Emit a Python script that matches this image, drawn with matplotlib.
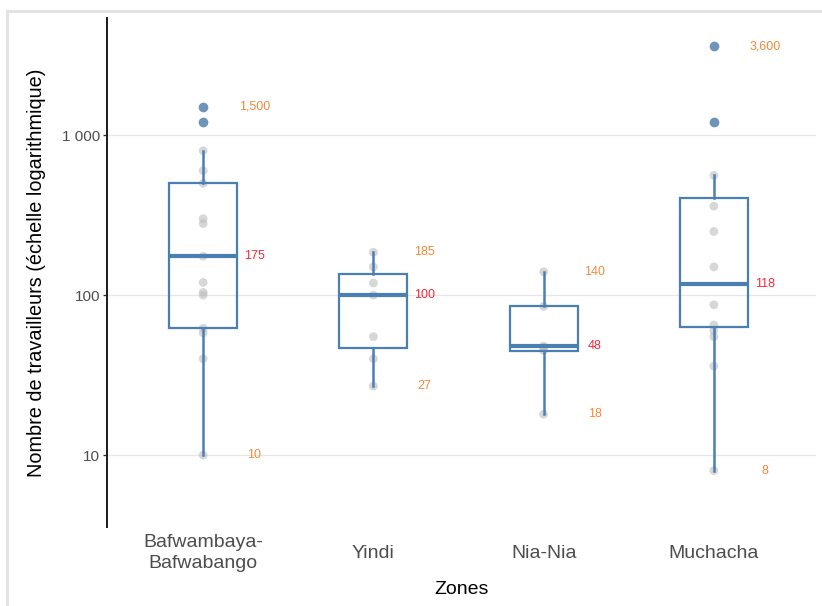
import numpy as np
import matplotlib
matplotlib.use("Agg")
import matplotlib.pyplot as plt
from matplotlib.lines import Line2D

plt.rcParams['font.family'] = ['Liberation Sans', 'DejaVu Sans']

# --- data -----------------------------------------------------------------
zones = ["Bafwambaya-\nBafwabango", "Yindi", "Nia-Nia", "Muchacha"]

# individual sites (non-outlier values)
pts_bafwambaya = [800, 600, 500, 300, 280, 175, 120, 104, 100, 62, 58, 40, 10]
pts_yindi = [185, 150, 119, 100, 55, 40, 27]
pts_nia = [140, 85, 48, 47, 45, 18]
pts_muchacha = [560, 360, 250, 150, 87, 65, 60, 55, 36, 8]
points = [pts_bafwambaya, pts_yindi, pts_nia, pts_muchacha]

# box summaries
q1 = [62, 47, 45, 63]
medians = [175, 100, 48, 118]
q3 = [500, 135, 85, 405]
whis_lo = [10, 27, 18, 8]
whis_hi = [800, 185, 140, 560]
outliers = [[1500, 1200], [], [], [3600, 1200]]

# annotated extremes
max_vals = [1500, 185, 140, 3600]
min_vals = [10, 27, 18, 8]

# --- styles ---------------------------------------------------------------
BOX = "#4a7fb4"
OUT = "#5f89b2"
PT = "#bdbdbd"
ORANGE = "#f28a3a"
RED = "#f5283a"
GRID = "#e6e6e6"

fig = plt.figure(figsize=(8.22, 6.06), dpi=100)
W, H = 822, 606
ax = fig.add_axes([107 / W, 1 - 527 / H, (816 - 107) / W, (527 - 18) / H])

pos = np.arange(1, len(zones) + 1)

stats = []
for i in range(len(zones)):
    stats.append(dict(med=medians[i], q1=q1[i], q3=q3[i],
                      whislo=whis_lo[i], whishi=whis_hi[i],
                      fliers=outliers[i], label=zones[i]))

# gray site points underneath
for x, vals in zip(pos, points):
    ax.scatter([x] * len(vals), vals, s=40, color=PT, alpha=0.6,
               edgecolors='none', zorder=2)

ax.bxp(stats, positions=pos, widths=0.4, showcaps=False, patch_artist=True,
       boxprops=dict(facecolor='none', edgecolor=BOX, linewidth=1.6),
       medianprops=dict(color=BOX, linewidth=3.0),
       whiskerprops=dict(color=BOX, linewidth=1.8),
       flierprops=dict(marker='o', markerfacecolor=OUT, markeredgecolor='none',
                       markersize=7, alpha=0.9),
       zorder=3)

# value labels
for x, hi, lo, md in zip(pos, max_vals, min_vals, medians):
    ax.text(x + 0.3, hi, f"{hi:,}", color=ORANGE, fontsize=9,
            ha='center', va='center')
    ax.text(x + 0.3, lo, f"{lo:,}", color=ORANGE, fontsize=9,
            ha='center', va='center')
    ax.text(x + 0.3, md, f"{md}", color=RED, fontsize=9,
            ha='center', va='center')

ax.set_yscale('log')
ax.set_ylim(3.55, 5400)
ax.set_xlim(0.435, 4.6)
ax.set_yticks([10, 100, 1000])
ax.set_yticklabels(["10", "100", "1 000"])
ax.yaxis.set_minor_locator(matplotlib.ticker.NullLocator())
ax.set_xticks(pos)
ax.set_xticklabels(zones, fontsize=14, color="#4d4d4d", va='center',
                   linespacing=1.3)

ax.grid(axis='y', color=GRID, linewidth=0.9)
ax.set_axisbelow(True)
for s in ['top', 'right', 'bottom']:
    ax.spines[s].set_visible(False)
ax.spines['left'].set_linewidth(1.4)
ax.spines['left'].set_color('#1a1a1a')

ax.tick_params(axis='y', labelsize=11, labelcolor="#4d4d4d", length=3,
               width=1.0, color='#333333', pad=2)
ax.tick_params(axis='x', length=0, pad=19)

ax.set_xlabel("Zones", fontsize=14)
ax.xaxis.set_label_coords(0.5, -0.106)
ax.set_ylabel("Nombre de travailleurs (échelle logarithmique)", fontsize=14.3)
ax.yaxis.set_label_coords(-0.086, 0.5)

# light frame around the panel
fig.add_artist(Line2D([7 / W, 7 / W], [0, 1 - 11 / H], transform=fig.transFigure,
                      color='#e3e3e3', linewidth=2.2))
fig.add_artist(Line2D([7 / W, 1], [1 - 11 / H, 1 - 11 / H], transform=fig.transFigure,
                      color='#e3e3e3', linewidth=2.2))

fig.savefig("out.png", dpi=100)
